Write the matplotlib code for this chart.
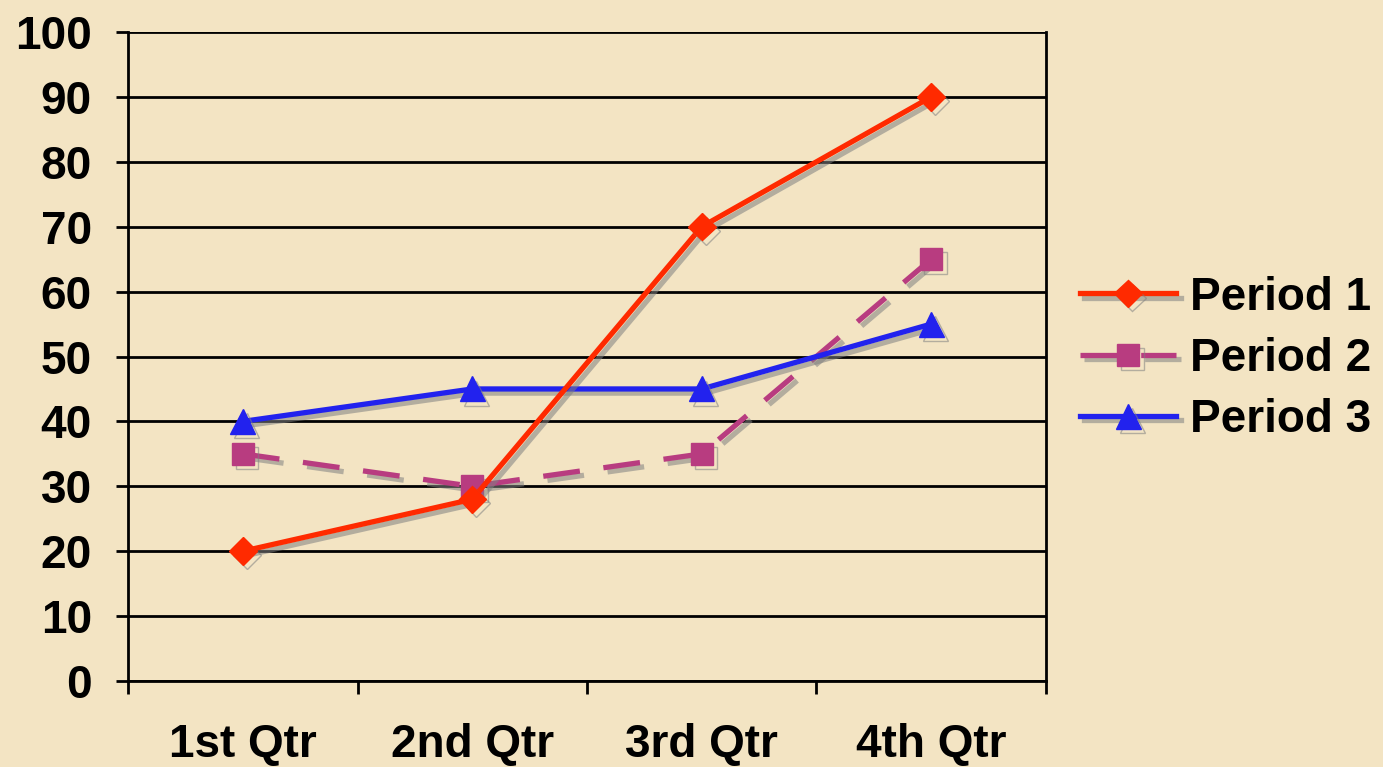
import matplotlib.pyplot as plt
import matplotlib.patheffects as pe
import numpy as np

categories = ['1st Qtr', '2nd Qtr', '3rd Qtr', '4th Qtr']
period1 = [20, 28, 70, 90]
period2 = [35, 30, 35, 65]
period3 = [40, 45, 45, 55]

bg = '#F3E4C3'
plt.rcParams['font.family'] = ['Liberation Sans', 'DejaVu Sans']
plt.rcParams['font.weight'] = 'bold'

fig = plt.figure(figsize=(13.83, 7.67), dpi=100, facecolor=bg)
ax = fig.add_axes([0.0926, 0.1121, 0.6637, 0.8462])
ax.set_facecolor(bg)

x = np.arange(len(categories))
shadow = [pe.SimpleLineShadow(offset=(3, -3), shadow_color='#808080', alpha=0.55), pe.Normal()]

ax.plot(x, period1, color='#FF2A00', lw=3.8, marker='D', ms=14, label='Period 1',
        path_effects=shadow, zorder=5)
ax.plot(x, period2, color='#B83C80', lw=3.8, marker='s', ms=16, dashes=(7, 4.5),
        label='Period 2', path_effects=shadow, zorder=4)
ax.plot(x, period3, color='#2222EE', lw=3.8, marker='^', ms=18, label='Period 3',
        path_effects=shadow, zorder=4)

ax.set_xlim(-0.5, 3.5)
ax.set_ylim(0, 100)
ax.set_yticks(np.arange(0, 101, 10))
ax.grid(axis='y', color='black', lw=2)
ax.set_axisbelow(True)

ax.set_xticks(x)
ax.set_xticklabels(categories)
ax.set_xticks(np.arange(-0.5, 4, 1), minor=True)
ax.tick_params(axis='x', which='major', length=0, pad=30, labelsize=33)
ax.tick_params(axis='x', which='minor', length=9, width=2, direction='out')
ax.tick_params(axis='y', length=9, width=2, direction='out', pad=17, labelsize=33)

for s in ax.spines.values():
    s.set_linewidth(2)
ax.spines['top'].set_visible(False)

leg = fig.legend(loc='center left', bbox_to_anchor=(0.781, 0.532), frameon=False,
                 fontsize=33, handlelength=2.1, labelspacing=0.38, handletextpad=0.3,
                 borderaxespad=0, borderpad=0)

fig.savefig('out.png', dpi=100, facecolor=bg)
